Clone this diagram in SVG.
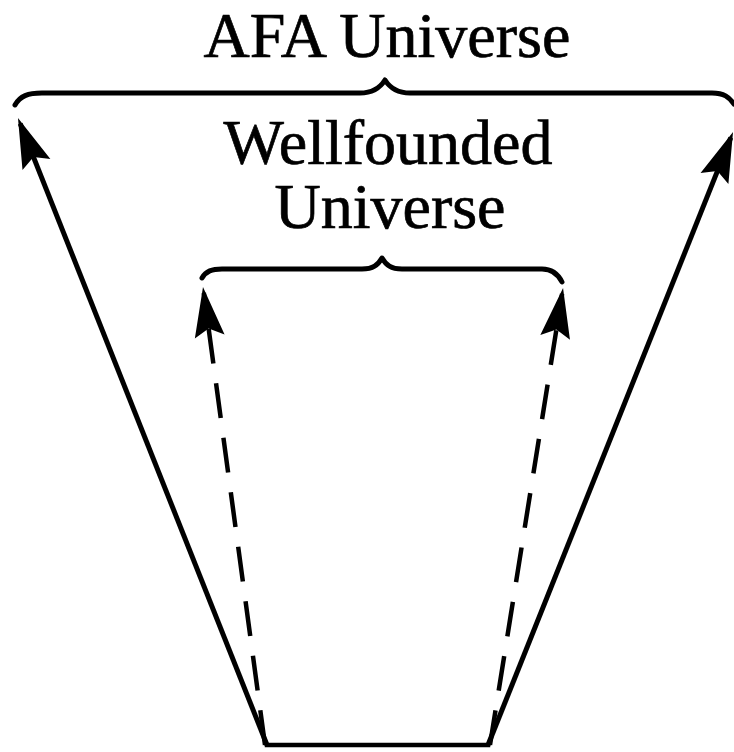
<svg xmlns="http://www.w3.org/2000/svg" width="734" height="752" viewBox="0 0 734 752">
  <style>
    .lbl { font-family: "Liberation Serif", "DejaVu Serif", serif; font-size: 64px; fill: #000; stroke: #000; stroke-width: 0.7; text-anchor: middle; }
    .brace { fill: none; stroke: #000; stroke-width: 5; stroke-linecap: round; stroke-linejoin: round; }
    .solid { fill: none; stroke: #000; stroke-width: 5; }
    .dash { fill: none; stroke: #000; stroke-width: 4.5; stroke-dasharray: 35 20; }
    .base { fill: none; stroke: #000; stroke-width: 4.5; stroke-linecap: square; }
  </style>
  <defs>
    <marker id="head" markerUnits="userSpaceOnUse" viewBox="-46 -16 54 32" refX="0" refY="0" markerWidth="54" markerHeight="32" orient="auto" overflow="visible">
      <path d="M6,0 L-44,-15 L-36,0 L-44,15 Z" fill="#000"/>
    </marker>
  </defs>
  <rect width="734" height="752" fill="#fff"/>

  <g id="afa-universe">
    <path class="brace" d="M15,105 C20,96 28,93 42,93 L360,93 C373,93 380,88 385,80 C390,88 397,93 410,93 L712,93 C724,93 729,97 734,104"/>
    <text class="lbl" x="387" y="57">AFA Universe</text>
  </g>

  <g id="wellfounded-universe">
    <path class="brace" d="M202,278 C206,271 212,269 222,269 L362,269 C373,269 378,265 382,258 C386,265 391,269 402,269 L542,269 C552,269 558,274 562,282"/>
    <text class="lbl" x="388" y="164">Wellfounded</text>
    <text class="lbl" x="390" y="228">Universe</text>
  </g>

  <g id="base">
    <line class="base" x1="267" y1="745" x2="488" y2="745"/>
  </g>

  <g id="connectors">
    <line class="solid" x1="267" y1="745" x2="20.2" y2="123.6" marker-end="url(#head)"/>
    <line class="solid" x1="488" y1="745" x2="730.8" y2="137.6" marker-end="url(#head)"/>
    <line class="dash" x1="265" y1="745" x2="203.8" y2="292.9" marker-end="url(#head)"/>
    <line class="dash" x1="490" y1="745" x2="562.1" y2="293.9" marker-end="url(#head)"/>
  </g>
</svg>
